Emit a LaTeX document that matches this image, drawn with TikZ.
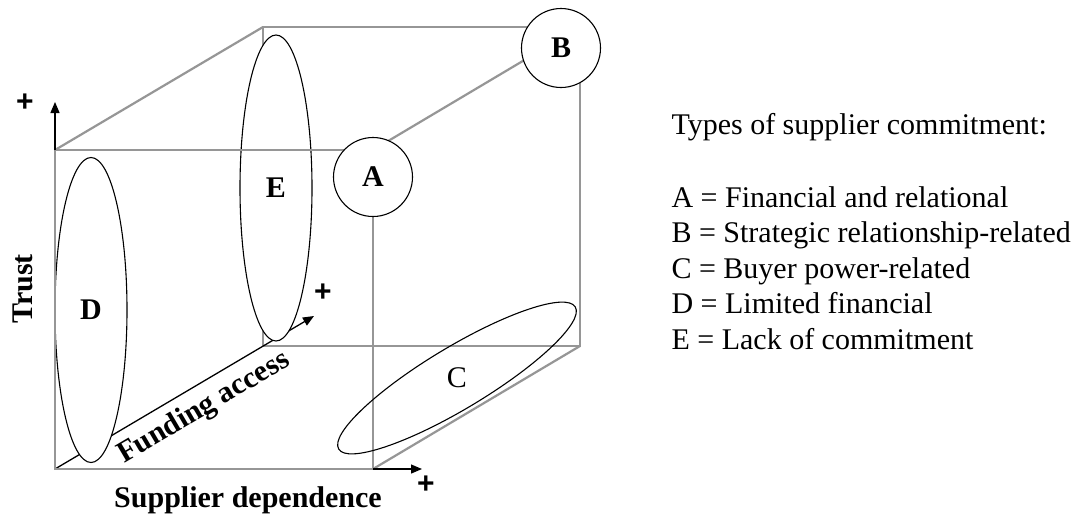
\documentclass[tikz,border=0pt]{standalone}
\usepackage{fontspec}
\setmainfont{Liberation Serif}
\newfontfamily\signfont{Liberation Sans}
\usetikzlibrary{arrows.meta, shapes.geometric}
\definecolor{edgegray}{RGB}{150,150,150}
\newcommand{\bigfont}{\fontsize{30}{36}\selectfont}

\begin{document}
\begin{tikzpicture}[x=1pt, y=-1pt,
  edge/.style={edgegray, line width=2.2pt},
  axis/.style={line width=1.3pt, -{Triangle[length=11pt,width=9pt]}},
  zone/.style={draw, ellipse, line width=1.1pt, inner sep=0pt, font=\bigfont\bfseries},
  type/.style={draw, circle, fill=white, line width=1.1pt, minimum size=79pt, inner sep=0pt, font=\bigfont\bfseries},
  signlbl/.style={inner sep=0pt, font=\signfont\fontsize{30}{30}\selectfont\bfseries},
  every node/.append style={font=\bigfont}]
  \useasboundingbox (0,0) rectangle (1077,515);
  \coordinate (ftl) at (55,150);
  \coordinate (ftr) at (373,150);
  \coordinate (fbr) at (373,469);
  \coordinate (fbl) at (55,469);
  \coordinate (btl) at (263,27);
  \coordinate (btr) at (580,27);
  \coordinate (bbr) at (580,346);
  \coordinate (bbl) at (263,346);
  \coordinate (fa) at (314,316);
  \coordinate (tr) at (55,102);
  \coordinate (sd) at (422,469);
  \draw[edge] (bbl) -- (btl) -- (btr) -- (bbr) -- (bbl);
  \draw[edge] (ftl) -- (btl) (ftr) -- (btr) (fbr) -- (bbr);
  \draw[axis] (fbl) -- (fa) node[pos=0.53, sloped, below=9pt, inner sep=0pt, font=\bigfont\bfseries] (fund) {Funding access};
  \node[zone, fill=white, minimum width=72pt, minimum height=306pt] (E) at (276,188) {E};
  \node[zone, fill=white, minimum width=72pt, minimum height=305pt] (D) at (91,310) {D};
  \draw[edge] (ftl) rectangle (fbr);
  \draw[axis] (ftl) -- (tr);
  \draw[axis] (fbr) -- (sd);
  \node[zone, rotate=31, minimum width=276pt, minimum height=62pt] (C) at (457,378) {};
  \node[font=\bigfont] (Clbl) at (C.center) {C};
  \node[type] (A) at (373,177) {A};
  \node[type] (B) at (561,48) {B};
  \node[signlbl] (ptr) at (25,103) {+};
  \node[signlbl] (pfa) at (323,293) {+};
  \node[signlbl] (psd) at (426,485) {+};
  \node[rotate=90, font=\bigfont\bfseries] (trust) at (23,289) {Trust};
  \node[anchor=base, font=\bigfont\bfseries] (supp) at (248,507) {Supplier dependence};
  \node[anchor=base west] (head) at (668,134) {Types of supplier commitment:};
  \foreach \k/\t [count=\i] in {A/Financial and relational, B/Strategic relationship-related, C/Buyer power-related, D/Limited financial, E/Lack of commitment}
    \node[anchor=base west] (leg\k) at (668,{207+35.5*(\i-1)}) {\k\ = \t};
\end{tikzpicture}
\end{document}
